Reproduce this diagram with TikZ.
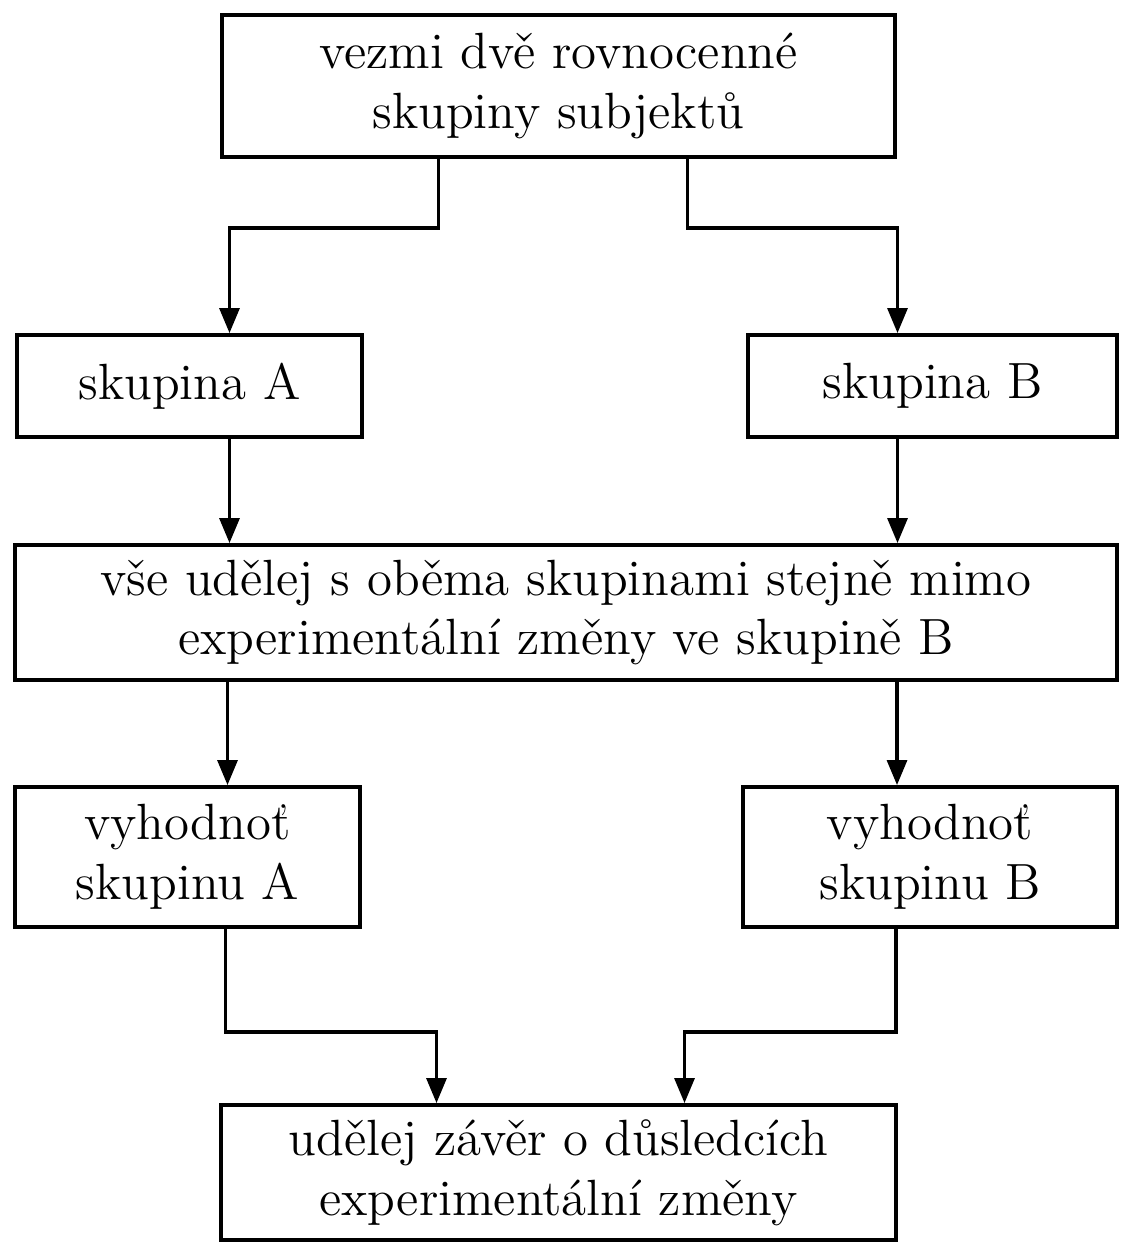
\documentclass[tikz,border=0pt]{standalone}
\usepackage{fontspec}
\usepackage{tikz}
\usetikzlibrary{arrows.meta}
\tikzset{%
  stepbox/.style  = {shape=rectangle, draw, line width=1.1pt,%
                     align=center, inner sep=0pt,%
                     font=\fontsize{14.5}{17}\selectfont},%
  smallbox/.style = {stepbox, minimum height=1.02cm},%
  evalbox/.style  = {stepbox, minimum height=1.40cm},%
  flow/.style     = {line width=0.9pt, -{Triangle[length=2.5mm,width=2mm]}}%
}

\begin{document}
\begin{tikzpicture}
              \useasboundingbox (0,0) rectangle (11.25,12.45);
              % -------------- BOXES --------------------------------------
              \node [stepbox, minimum width=6.73cm, minimum height=1.42cm] (top) at (5.585,11.59)
                {vezmi dvě rovnocenné\\skupiny subjektů};
              \node [smallbox, minimum width=3.45cm] (grpA) at (1.895,8.59) {skupina A};
              \node [smallbox, minimum width=3.69cm] (grpB) at (9.325,8.59) {skupina B};
              \node [stepbox, minimum width=11.02cm, minimum height=1.35cm] (mid) at (5.66,6.325)
                {vše udělej s oběma skupinami stejně mimo\\experimentální změny ve skupině B};
              \node [evalbox, minimum width=3.45cm] (evalA) at (1.875,3.88) {vyhodnoť\\skupinu A};
              \node [evalbox, minimum width=3.74cm] (evalB) at (9.30,3.88) {vyhodnoť\\skupinu B};
              \node [stepbox, minimum width=6.75cm, minimum height=1.35cm] (concl) at (5.585,0.725)
                {udělej závěr o důsledcích\\experimentální změny};
              % -------------- CONNECTORS ---------------------------------
              \coordinate (splitT) at (0,10.17);
              \coordinate (joinB) at (0,2.13);
              \draw[flow]
              ([xshift=-1.2cm]top.south) -- ([xshift=-1.2cm]top.south |- splitT)
                -| ([xshift=.4cm]grpA.north);
              \draw[flow]
              ([xshift=1.29cm]top.south) -- ([xshift=1.29cm]top.south |- splitT)
                -| ([xshift=-.35cm]grpB.north);
              \draw[flow]
              ([xshift=.4cm]grpA.south) -- ([xshift=.4cm]grpA.south |- mid.north);
              \draw[flow]
              ([xshift=-.35cm]grpB.south) -- ([xshift=-.35cm]grpB.south |- mid.north);
              \draw[flow]
              ([xshift=.4cm]evalA.north |- mid.south) -- ([xshift=.4cm]evalA.north);
              \draw[flow]
              ([xshift=-.33cm]evalB.north |- mid.south) -- ([xshift=-.33cm]evalB.north);
              \draw[flow]
              ([xshift=.38cm]evalA.south) -- ([xshift=.38cm]evalA.south |- joinB)
                -| ([xshift=-1.22cm]concl.north);
              \draw[flow]
              ([xshift=-.34cm]evalB.south) -- ([xshift=-.34cm]evalB.south |- joinB)
                -| ([xshift=1.26cm]concl.north);
\end{tikzpicture}
\end{document}
